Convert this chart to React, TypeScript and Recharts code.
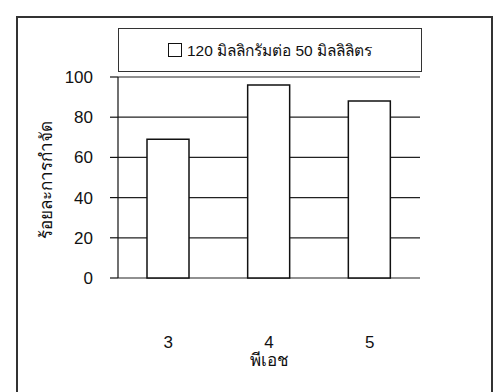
import React from 'react';
import { BarChart, Bar, XAxis, YAxis, CartesianGrid, Legend } from 'recharts';

const phLevels = ['3', '4', '5'];
const removalPercent = [69, 96, 88];
const yTicks = [0, 20, 40, 60, 80, 100];
const boundaryTicks = [3.5, 4.5];
const seriesName = '120 มิลลิกรัมต่อ 50 มิลลิลิตร';
const xTitle = 'พีเอช';
const yTitle = 'ร้อยละการกำจัด';

const data = phLevels.map((ph, i) => ({ ph, pos: Number(ph), value: removalPercent[i] }));

const FONT = '"Liberation Sans", Arial, sans-serif';

const LegendBox = () => (
  <div
    style={{
      boxSizing: 'border-box',
      width: 304,
      height: 44,
      border: '1.5px solid #333',
      background: '#fff',
      display: 'flex',
      alignItems: 'center',
      justifyContent: 'center',
      fontFamily: FONT,
      fontSize: 15.5,
      color: '#111',
    }}
  >
    <span
      style={{
        display: 'inline-block',
        width: 12,
        height: 12,
        border: '1.5px solid #111',
        background: '#fff',
        marginRight: 5,
      }}
    />
    <span>{seriesName}</span>
  </div>
);

const YTitle = (props: any) => {
  const vb = props.viewBox || {};
  const cx = vb.x + 46;
  const cy = vb.y + vb.height / 2 + 2;
  return (
    <text
      x={cx}
      y={cy}
      transform={`rotate(-90 ${cx} ${cy})`}
      textAnchor="middle"
      dominantBaseline="central"
      fontFamily={FONT}
      fontSize={17}
      fill="#111"
    >
      {yTitle}
    </text>
  );
};

export default function App() {
  return (
    <div style={{ position: 'absolute', left: 0, top: 0, width: 495, height: 392, overflow: 'hidden', background: '#fff' }}>
      <div style={{ position: 'absolute', left: 0, top: 0 }}>
        <BarChart
          width={495}
          height={392}
          data={data}
          margin={{ top: 77, right: 75, bottom: 0, left: 0 }}
        >
          <CartesianGrid
            xAxisId="b"
            yAxisId="l"
            vertical={false}
            stroke="#222"
            strokeWidth={1.2}
          />
          <XAxis
            xAxisId="b"
            dataKey="pos"
            type="number"
            domain={[2.5, 5.5]}
            allowDataOverflow
            ticks={boundaryTicks}
            tick={false}
            tickSize={6}
            height={0}
            axisLine={{ stroke: '#111', strokeWidth: 1.2 }}
            tickLine={{ stroke: '#111', strokeWidth: 1.2 }}
          />
          <XAxis
            xAxisId="cat"
            dataKey="ph"
            height={114}
            axisLine={false}
            tickLine={false}
            tickSize={0}
            tickMargin={58}
            tick={{ fontSize: 17, fill: '#111', fontFamily: FONT }}
            label={{ value: xTitle, position: 'insideTop', offset: 76, fontSize: 17, fill: '#111', fontFamily: FONT }}
          />
          <YAxis
            yAxisId="l"
            domain={[0, 100]}
            ticks={yTicks}
            width={118}
            tickSize={8}
            tickMargin={17}
            axisLine={{ stroke: '#111', strokeWidth: 1.2 }}
            tickLine={{ stroke: '#111', strokeWidth: 1.2 }}
            tick={{ fontSize: 17, fill: '#111', fontFamily: FONT }}
            label={<YTitle />}
          />
          <YAxis
            yAxisId="r"
            orientation="right"
            domain={[0, 100]}
            width={0}
            tick={false}
            tickLine={false}
            axisLine={{ stroke: '#777', strokeWidth: 2 }}
          />
          <Legend
            layout="horizontal"
            verticalAlign="middle"
            align="center"
            content={<LegendBox />}
            wrapperStyle={{ position: 'absolute', left: 118, top: 28, width: 304, height: 44 }}
          />
          <Bar
            xAxisId="cat"
            yAxisId="l"
            dataKey="value"
            name={seriesName}
            barSize={42}
            fill="#fff"
            stroke="#111"
            strokeWidth={1.5}
            isAnimationActive={false}
          />
        </BarChart>
      </div>
      <div
        style={{
          position: 'absolute',
          left: 16,
          top: 16,
          width: 477,
          height: 420,
          border: '2px solid #333',
          boxSizing: 'border-box',
          pointerEvents: 'none',
        }}
      />
    </div>
  );
}
